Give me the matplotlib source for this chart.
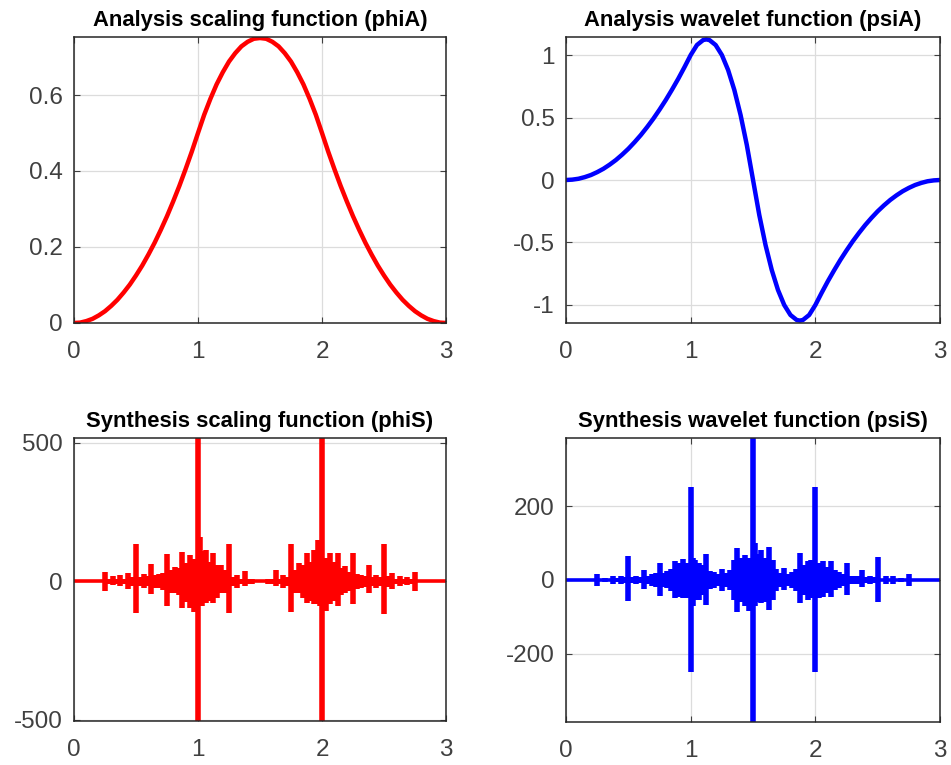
import matplotlib
matplotlib.use('Agg')
import matplotlib.pyplot as plt
import numpy as np

plt.rcParams['font.family'] = ['Liberation Sans', 'DejaVu Sans']
plt.rcParams['axes.unicode_minus'] = False

# ДАННЫЕ
support = [0, 3]

# Analysis scaling function (phiA)
phiA_t = [0, 0.05, 0.1, 0.15, 0.2, 0.25, 0.3, 0.35, 0.4, 0.45, 0.5, 0.55, 0.6, 0.65, 0.7, 0.75,
          0.8, 0.85, 0.9, 0.95, 1.0, 1.05, 1.1, 1.15, 1.2, 1.25, 1.3, 1.35, 1.4, 1.45, 1.5,
          1.55, 1.6, 1.65, 1.7, 1.75, 1.8, 1.85, 1.9, 1.95, 2.0, 2.05, 2.1, 2.15, 2.2, 2.25,
          2.3, 2.35, 2.4, 2.45, 2.5, 2.55, 2.6, 2.65, 2.7, 2.75, 2.8, 2.85, 2.9, 2.95, 3.0]
phiA_v = [0, 0.001, 0.005, 0.011, 0.02, 0.031, 0.045, 0.061, 0.08, 0.101, 0.125, 0.151, 0.18,
          0.211, 0.245, 0.281, 0.32, 0.361, 0.405, 0.451, 0.5, 0.548, 0.59, 0.628, 0.66, 0.688,
          0.71, 0.728, 0.74, 0.748, 0.75, 0.748, 0.74, 0.728, 0.71, 0.688, 0.66, 0.628, 0.59,
          0.548, 0.5, 0.451, 0.405, 0.361, 0.32, 0.281, 0.245, 0.211, 0.18, 0.151, 0.125,
          0.101, 0.08, 0.061, 0.045, 0.031, 0.02, 0.011, 0.005, 0.001, 0]

# Analysis wavelet function (psiA)
psiA_t = [0, 0.05, 0.1, 0.15, 0.2, 0.25, 0.3, 0.35, 0.4, 0.45, 0.5, 0.55, 0.6, 0.65, 0.7, 0.75,
          0.8, 0.85, 0.9, 0.95, 1.0, 1.05, 1.1, 1.125, 1.15, 1.2, 1.25, 1.3, 1.35, 1.4, 1.45, 1.5,
          1.55, 1.6, 1.65, 1.7, 1.75, 1.8, 1.85, 1.875, 1.9, 1.95, 2.0, 2.05, 2.1, 2.15, 2.2,
          2.25, 2.3, 2.35, 2.4, 2.45, 2.5, 2.55, 2.6, 2.65, 2.7, 2.75, 2.8, 2.85, 2.9, 2.95, 3.0]
psiA_v = [0, 0.003, 0.01, 0.023, 0.04, 0.063, 0.09, 0.123, 0.16, 0.203, 0.25, 0.303, 0.36,
          0.423, 0.49, 0.563, 0.64, 0.723, 0.81, 0.903, 1.0, 1.08, 1.12, 1.125, 1.12, 1.08,
          1.0, 0.88, 0.72, 0.52, 0.28, 0, -0.28, -0.52, -0.72, -0.88, -1.0, -1.08, -1.12,
          -1.125, -1.12, -1.08, -1.0, -0.903, -0.81, -0.723, -0.64, -0.563, -0.49, -0.423,
          -0.36, -0.303, -0.25, -0.203, -0.16, -0.123, -0.09, -0.063, -0.04, -0.023, -0.01,
          -0.003, 0]

# Synthesis scaling function (phiS): положение пиков, высота вверх и вниз
phiS_t = [0.25, 0.28125, 0.3125, 0.34375, 0.375, 0.40625, 0.4375, 0.46875, 0.5,
          0.53125, 0.5625, 0.59375, 0.625, 0.65625, 0.6875, 0.71875, 0.75,
          0.78125, 0.8125, 0.84375, 0.875, 0.90625, 0.9375, 0.96875, 1.0,
          1.015625, 1.03125, 1.0625, 1.09375, 1.125, 1.15625, 1.1875, 1.21875, 1.25,
          1.28125, 1.3125, 1.34375, 1.375, 1.40625, 1.4375,
          1.5625, 1.59375, 1.625, 1.65625, 1.6875, 1.71875, 1.75,
          1.78125, 1.8125, 1.84375, 1.875, 1.90625, 1.9375, 1.96875, 1.984375, 2.0,
          2.03125, 2.0625, 2.09375, 2.125, 2.15625, 2.1875, 2.21875, 2.25,
          2.28125, 2.3125, 2.34375, 2.375, 2.40625, 2.4375, 2.46875, 2.5,
          2.53125, 2.5625, 2.59375, 2.625, 2.65625, 2.6875, 2.71875, 2.75]
phiS_up = [35, 10, 18, 8, 22, 10, 32, 15, 135,
           15, 28, 18, 62, 22, 28, 30, 100,
           40, 52, 50, 105, 65, 97, 80, 518,
           160, 110, 115, 70, 103, 60, 61, 40, 134,
           15, 25, 10, 37, 8, 10,
           10, 8, 43, 10, 25, 15, 134,
           40, 67, 60, 103, 70, 115, 150, 150, 518,
           85, 103, 70, 103, 50, 55, 35, 103,
           28, 25, 20, 61, 15, 25, 15, 135,
           20, 30, 10, 20, 8, 15, 10, 35]
phiS_dn = [35, 10, 12, 8, 18, 10, 28, 15, 115,
           15, 22, 18, 45, 22, 25, 30, 88,
           40, 42, 50, 95, 75, 95, 110, 504,
           70, 90, 77, 70, 77, 60, 41, 40, 113,
           15, 25, 10, 17, 8, 10,
           10, 8, 17, 10, 25, 15, 110,
           40, 41, 60, 77, 70, 83, 80, 90, 504,
           105, 83, 70, 89, 50, 41, 35, 83,
           28, 25, 20, 41, 15, 25, 15, 118,
           20, 28, 10, 18, 8, 12, 10, 35]

# Synthesis wavelet function (psiS)
psiS_t = [0.25, 0.3125, 0.375, 0.40625, 0.4375, 0.46875, 0.5,
          0.53125, 0.5625, 0.59375, 0.625, 0.65625, 0.6875, 0.71875, 0.75,
          0.78125, 0.8125, 0.84375, 0.875, 0.90625, 0.9375, 0.96875, 1.0,
          1.015625, 1.03125, 1.0625, 1.09375, 1.125, 1.15625, 1.1875, 1.21875, 1.25,
          1.28125, 1.3125, 1.34375, 1.375, 1.40625, 1.4375, 1.46875, 1.5,
          1.515625, 1.53125, 1.5625, 1.59375, 1.625, 1.65625, 1.6875, 1.71875, 1.75,
          1.78125, 1.8125, 1.84375, 1.875, 1.90625, 1.9375, 1.96875, 2.0,
          2.03125, 2.0625, 2.09375, 2.125, 2.15625, 2.1875, 2.21875, 2.25,
          2.28125, 2.3125, 2.34375, 2.375, 2.40625, 2.4375, 2.46875, 2.5,
          2.5625, 2.625, 2.6875, 2.75]
psiS_up = [15, 6, 12, 6, 12, 8, 65,
           8, 12, 8, 28, 10, 15, 20, 47,
           20, 25, 30, 52, 45, 58, 45, 252,
           60, 55, 45, 40, 70, 25, 22, 15, 30,
           20, 27, 55, 86, 60, 68, 60, 384,
           100, 70, 81, 60, 90, 55, 30, 20, 32,
           15, 22, 30, 72, 40, 50, 55, 252,
           45, 50, 35, 50, 28, 22, 15, 45,
           12, 12, 10, 27, 8, 12, 8, 63,
           10, 12, 6, 15]
psiS_dn = [15, 6, 12, 6, 12, 8, 58,
           8, 12, 8, 25, 10, 15, 20, 42,
           20, 22, 30, 50, 45, 50, 50, 250,
           70, 55, 55, 40, 68, 25, 22, 15, 30,
           20, 27, 55, 86, 60, 70, 85, 384,
           70, 60, 63, 60, 81, 55, 30, 20, 27,
           15, 22, 30, 63, 40, 55, 50, 250,
           50, 45, 35, 45, 28, 22, 15, 40,
           12, 12, 10, 20, 8, 12, 8, 60,
           10, 12, 6, 15]

x_ticks = [0, 1, 2, 3]
RED = '#ff0000'
BLUE = '#0000ff'
TICK_COLOR = '#404040'


def spike_path(t, up, dn):
    xs = [support[0]]
    ys = [0]
    for ti, u, d in zip(t, up, dn):
        xs += [ti, ti, ti, ti]
        ys += [0, u, -d, 0]
    xs.append(support[1])
    ys.append(0)
    return xs, ys


def style(ax, title, ylim, yticks):
    ax.set_xlim(support)
    ax.set_ylim(ylim)
    ax.set_xticks(x_ticks)
    ax.set_yticks(yticks)
    ax.grid(True, color='#dcdcdc', lw=0.9)
    ax.set_axisbelow(True)
    ax.tick_params(direction='in', length=4, width=0.8, top=True, right=True,
                   labelsize=17.5, colors=TICK_COLOR)
    ax.tick_params(axis='x', pad=13)
    ax.tick_params(axis='y', pad=8)
    for s in ax.spines.values():
        s.set_color('#262626')
        s.set_linewidth(1.1)
    ax.set_title(title, fontsize=15.8, fontweight='bold', color='#000000', pad=8)


fig = plt.figure(figsize=(9.51, 7.65), dpi=100)
ax1 = fig.add_axes([0.0778, 0.5778, 0.3912, 0.3738])
ax2 = fig.add_axes([0.5952, 0.5778, 0.3933, 0.3738])
ax3 = fig.add_axes([0.0778, 0.0575, 0.3912, 0.3700])
ax4 = fig.add_axes([0.5952, 0.0562, 0.3933, 0.3713])

ax1.plot(phiA_t, phiA_v, color=RED, lw=3.2, solid_joinstyle='round')
style(ax1, 'Analysis scaling function (phiA)', (0, 0.7526), [0, 0.2, 0.4, 0.6])
ax1.set_yticklabels(['0', '0.2', '0.4', '0.6'])

ax2.plot(psiA_t, psiA_v, color=BLUE, lw=3.2, solid_joinstyle='round')
style(ax2, 'Analysis wavelet function (psiA)', (-1.144, 1.144), [-1, -0.5, 0, 0.5, 1])
ax2.set_yticklabels(['-1', '-0.5', '0', '0.5', '1'])

xs, ys = spike_path(phiS_t, phiS_up, phiS_dn)
ax3.plot(xs, ys, color=RED, lw=2.6, solid_joinstyle='bevel', solid_capstyle='butt')
ax3.vlines(phiS_t, -np.array(phiS_dn), phiS_up, color=RED, lw=4.0, capstyle='butt')
style(ax3, 'Synthesis scaling function (phiS)', (-504, 518), [-500, 0, 500])

xs, ys = spike_path(psiS_t, psiS_up, psiS_dn)
ax4.plot(xs, ys, color=BLUE, lw=2.6, solid_joinstyle='bevel', solid_capstyle='butt')
ax4.vlines(psiS_t, -np.array(psiS_dn), psiS_up, color=BLUE, lw=4.0, capstyle='butt')
style(ax4, 'Synthesis wavelet function (psiS)', (-384, 384), [-200, 0, 200])

for ax in (ax1, ax2, ax3, ax4):
    ax.set_xticklabels([str(v) for v in x_ticks])

fig.savefig('out.png', dpi=100)
